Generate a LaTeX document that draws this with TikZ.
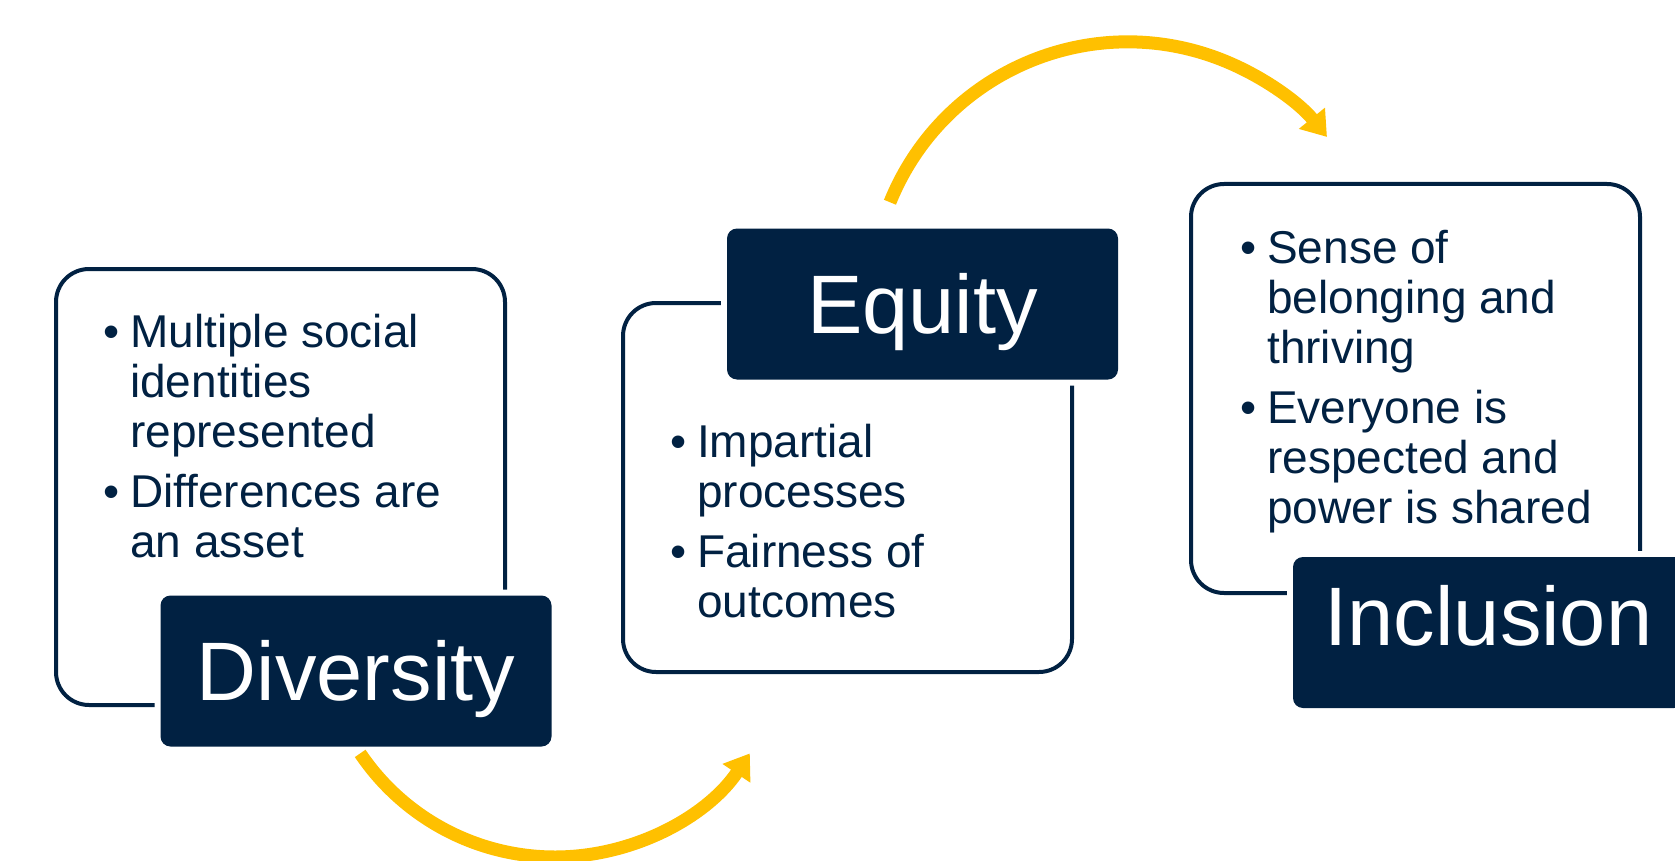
\documentclass[tikz,border=0pt]{standalone}
\usepackage{fontspec}
\setmainfont{Liberation Sans}
\usetikzlibrary{arrows.meta,calc}
\definecolor{navy}{HTML}{012142}
\definecolor{gold}{HTML}{FFC000}

\begin{document}
\begin{tikzpicture}[x=1pt,y=-1pt,
  outbox/.style={draw=navy, line width=4pt, rounded corners=33pt, inner sep=0pt,
    minimum width=449pt},
  titlebox/.style={fill=navy, rounded corners=10pt, inner sep=0pt,
    minimum width=391pt, minimum height=151pt, text=white,
    font=\fontsize{83}{90}\selectfont, text height=59.4pt, text depth=0pt,
    preaction={draw=white, line width=12pt}},
  bullets/.style={anchor=base west, inner sep=0pt, text=navy,
    font=\fontsize{46}{50}\selectfont},
  flow/.style={draw=gold, line width=13pt, -{Triangle[length=24pt,width=32pt]}}
]
\useasboundingbox (0,0) rectangle (1675,861);

% Diversity
\node[outbox, minimum height=436pt] (dbox) at (280.5,487) {};
\node[bullets] (dtext) at (103,347) {\begin{tabular}[t]{@{}l@{}l@{}}
\makebox[27pt][l]{•} & Multiple social\\
 & identities\\
 & represented\\[10pt]
\makebox[27pt][l]{•} & Differences are\\
 & an asset
\end{tabular}};
\node[titlebox] (dtitle) at (356,671) {Diversity};

% Equity
\node[outbox, minimum height=369pt] (ebox) at (847.5,487.5) {};
\node[bullets] (etext) at (670,457) {\begin{tabular}[t]{@{}l@{}l@{}}
\makebox[27pt][l]{•} & Impartial\\
 & processes\\[10pt]
\makebox[27pt][l]{•} & Fairness of\\
 & outcomes
\end{tabular}};
\node[titlebox] (etitle) at (922.5,304) {Equity};

% Inclusion
\node[outbox, minimum height=409pt] (ibox) at (1415.5,388.5) {};
\node[bullets] (itext) at (1240,263) {\begin{tabular}[t]{@{}l@{}l@{}}
\makebox[27pt][l]{•} & Sense of\\
 & belonging and\\
 & thriving\\[10pt]
\makebox[27pt][l]{•} & Everyone is\\
 & respected and\\
 & power is shared
\end{tabular}};
\node[titlebox, text depth=34pt] (ititle) at (1488.5,632.5) {Inclusion};

% curved arrows between the stages
\coordinate (a1c) at (555,622);
\coordinate (a2c) at (1127.7,298.3);
\draw[flow] ($(a1c)+(146:235)$) arc[start angle=146, end angle=34, radius=235];
\draw[flow] ($(a2c)+(202:256.4)$) arc[start angle=202, end angle=321, radius=256.4];
\end{tikzpicture}
\end{document}
